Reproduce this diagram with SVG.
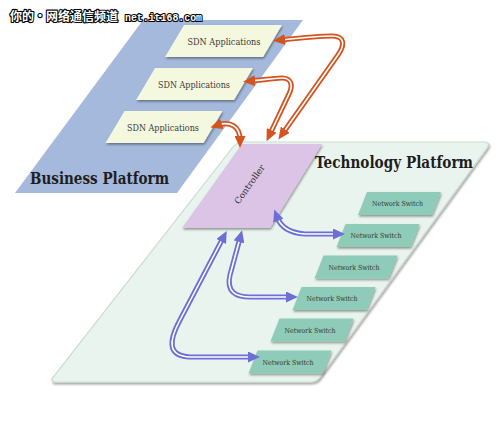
<svg xmlns="http://www.w3.org/2000/svg" width="500" height="432" viewBox="0 0 500 432">
<style>
.serif{font-family:"DejaVu Serif","Liberation Serif",serif;fill:#2a2a2a}
.big{font-weight:bold;font-size:16px;fill:#1e1e1e}
.sdn-t{font-size:9px;text-anchor:middle;fill:#3a3a3a}
.ns-t{font-size:7px;text-anchor:middle;fill:#2d3a35}
.sdn{fill:#f4f8df}
.ns{fill:#8ecbb9}
.oo{fill:none;stroke:#d4531e;stroke-width:5.2;stroke-linejoin:round}
.bo{fill:none;stroke:#6b6fd6;stroke-width:5.2;stroke-linejoin:round}
.in{fill:none;stroke:#fff;stroke-width:1.6;stroke-linejoin:round}
.mo{fill:none;stroke:none;marker-start:url(#ho);marker-end:url(#ho)}
.mb{fill:none;stroke:none;marker-start:url(#hb);marker-end:url(#hb)}
.wm{font-weight:bold;fill:#fff;stroke:#000;stroke-width:2.2;paint-order:stroke;stroke-linejoin:round}
</style>
<defs>
<filter id="sh" x="-10%" y="-20%" width="130%" height="150%">
<feDropShadow dx="0.8" dy="1.6" stdDeviation="0.9" flood-color="#000" flood-opacity="0.4"/>
</filter>
<filter id="shp" x="-5%" y="-5%" width="115%" height="115%">
<feDropShadow dx="1" dy="2" stdDeviation="1.2" flood-color="#000" flood-opacity="0.35"/>
</filter>
<polygon id="sdn-shape" points="-39.5,-16 58.5,-16 39.5,16 -58.5,16"/>
<polygon id="ns-shape" points="-32.5,-11.5 41.5,-11.5 32.5,11.5 -41.5,11.5"/>
<marker id="ho" viewBox="0 0 12 11" refX="4" refY="5.5" markerWidth="12" markerHeight="11" markerUnits="userSpaceOnUse" orient="auto-start-reverse"><path d="M0,0 L12,5.5 L0,11 z" fill="#d4531e"/></marker>
<marker id="hb" viewBox="0 0 12 11" refX="4" refY="5.5" markerWidth="12" markerHeight="11" markerUnits="userSpaceOnUse" orient="auto-start-reverse"><path d="M0,0 L12,5.5 L0,11 z" fill="#6b6fd6"/></marker>
</defs>
<rect width="500" height="432" fill="#fff"/>

<g id="business-platform">
<polygon points="143,20 303,20 177,193 15,193" fill="#a4b9db"/>
<text class="serif big" x="30" y="184" textLength="139" lengthAdjust="spacingAndGlyphs">Business Platform</text>
</g>

<g id="technology-platform">
<path d="M243,142 L484,142 Q491,142 487,148 L321,376 Q317,382 311,382 L56,382 Q49,382 54,376 L233,147 Q237,142 243,142 Z" fill="#eaf4ee" stroke="#c9dbd0" stroke-width="1.2" filter="url(#shp)"/>
<text class="serif big" x="315" y="168" textLength="158" lengthAdjust="spacingAndGlyphs">Technology Platform</text>
</g>

<g id="sdn-app-1" transform="translate(223.5,41)">
<use href="#sdn-shape" class="sdn" filter="url(#sh)"/>
<text class="serif sdn-t" x="0.5" y="3.5" textLength="73" lengthAdjust="spacingAndGlyphs">SDN Applications</text>
</g>
<g id="sdn-app-2" transform="translate(194.5,84)">
<use href="#sdn-shape" class="sdn" filter="url(#sh)"/>
<text class="serif sdn-t" x="-0.5" y="3.5" textLength="72" lengthAdjust="spacingAndGlyphs">SDN Applications</text>
</g>
<g id="sdn-app-3" transform="translate(164,127)">
<use href="#sdn-shape" class="sdn" filter="url(#sh)"/>
<text class="serif sdn-t" x="-1" y="3.5" textLength="72" lengthAdjust="spacingAndGlyphs">SDN Applications</text>
</g>

<g id="controller">
<polygon points="242,144 322,144 270,228 182,228" fill="#dcc4e6" filter="url(#sh)"/>
<text class="serif" font-size="8.5" text-anchor="middle" transform="translate(252,186) rotate(-55)" textLength="46" lengthAdjust="spacingAndGlyphs">Controller</text>
</g>

<g id="switch-1" transform="translate(399.5,203.5)"><use href="#ns-shape" class="ns" filter="url(#sh)"/><text class="serif ns-t" x="-2" y="2.5" textLength="51" lengthAdjust="spacingAndGlyphs">Network Switch</text></g>
<g id="switch-2" transform="translate(378,235.5)"><use href="#ns-shape" class="ns" filter="url(#sh)"/><text class="serif ns-t" x="-2" y="2.5" textLength="51" lengthAdjust="spacingAndGlyphs">Network Switch</text></g>
<g id="switch-3" transform="translate(356,267)"><use href="#ns-shape" class="ns" filter="url(#sh)"/><text class="serif ns-t" x="-2" y="2.5" textLength="51" lengthAdjust="spacingAndGlyphs">Network Switch</text></g>
<g id="switch-4" transform="translate(334,298.5)"><use href="#ns-shape" class="ns" filter="url(#sh)"/><text class="serif ns-t" x="-2" y="2.5" textLength="51" lengthAdjust="spacingAndGlyphs">Network Switch</text></g>
<g id="switch-5" transform="translate(312,330)"><use href="#ns-shape" class="ns" filter="url(#sh)"/><text class="serif ns-t" x="-2" y="2.5" textLength="51" lengthAdjust="spacingAndGlyphs">Network Switch</text></g>
<g id="switch-6" transform="translate(290,362)"><use href="#ns-shape" class="ns" filter="url(#sh)"/><text class="serif ns-t" x="-2" y="2.5" textLength="51" lengthAdjust="spacingAndGlyphs">Network Switch</text></g>

<g id="connectors">
<g id="arrow-app1-ctrl">
<path class="oo" d="M281,40 C300,38 320,36 332,36 C345,36 345,45 338,55 L283,133"/>
<path class="in" d="M281,40 C300,38 320,36 332,36 C345,36 345,45 338,55 L283,133"/>
<path class="mo" d="M281,40 C300,38 320,36 332,36 C345,36 345,45 338,55 L283,133"/>
</g>
<g id="arrow-app2-ctrl">
<path class="oo" d="M251,81 C262,80 275,78 282,78 C292,78 293,86 289,94 L270,134"/>
<path class="in" d="M251,81 C262,80 275,78 282,78 C292,78 293,86 289,94 L270,134"/>
<path class="mo" d="M251,81 C262,80 275,78 282,78 C292,78 293,86 289,94 L270,134"/>
</g>
<g id="arrow-app3-ctrl">
<path class="oo" d="M218,125 C230,121 240,126 240,140"/>
<path class="in" d="M218,125 C230,121 240,126 240,140"/>
<path class="mo" d="M218,125 C230,121 240,126 240,140"/>
</g>
<g id="arrow-ctrl-sw2">
<path class="bo" d="M277,217 C281,228 290,233 305,234 L337,234"/>
<path class="in" d="M277,217 C281,228 290,233 305,234 L337,234"/>
<path class="mb" d="M277,217 C281,228 290,233 305,234 L337,234"/>
</g>
<g id="arrow-ctrl-sw4">
<path class="bo" d="M240,238 L230,275 C226,292 236,297 250,297 L290,297"/>
<path class="in" d="M240,238 L230,275 C226,292 236,297 250,297 L290,297"/>
<path class="mb" d="M240,238 L230,275 C226,292 236,297 250,297 L290,297"/>
</g>
<g id="arrow-ctrl-sw6">
<path class="bo" d="M223,238 L180,320 C168,342 168,356 190,357 L252,357"/>
<path class="in" d="M223,238 L180,320 C168,342 168,356 190,357 L252,357"/>
<path class="mb" d="M223,238 L180,320 C168,342 168,356 190,357 L252,357"/>
</g>
</g>

<g id="watermark">
<text class="wm" x="10" y="21" font-size="12" font-family="'Noto Sans CJK SC',sans-serif" textLength="108" lengthAdjust="spacingAndGlyphs">你的•网络通信频道</text>
<text class="wm" x="125" y="21" font-size="10" font-family="'Liberation Mono',monospace" textLength="77" lengthAdjust="spacingAndGlyphs">net.it168.com</text>
</g>
</svg>
